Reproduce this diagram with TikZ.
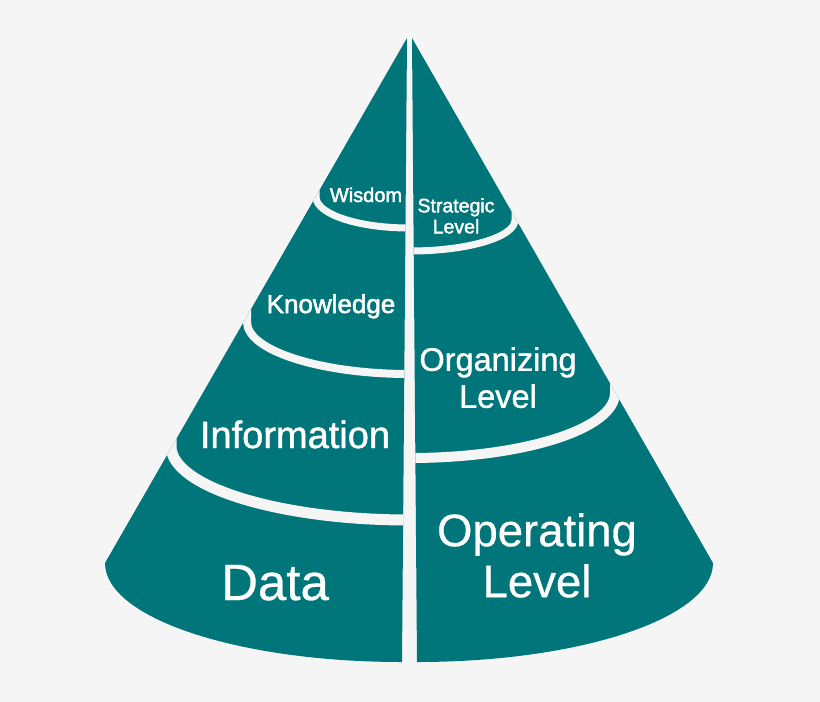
\documentclass[tikz,border=0pt]{standalone}
\usepackage{fontspec}
\setmainfont{Liberation Sans}
\newfontfamily\thicksans[FakeBold=2]{Liberation Sans}
\newfontfamily\midsans[FakeBold=1.2]{Liberation Sans}
\newfontfamily\thinsans[FakeBold=0.6]{Liberation Sans}
\usepackage{xcolor}
\definecolor{coneteal}{HTML}{00757A}
\definecolor{paper}{HTML}{F5F5F5}

\begin{document}
\begin{tikzpicture}[
  x=1pt, y=-1pt,
  cut/.style={draw=paper, line join=round},
  lbl/.style={text=white, inner sep=0pt, align=center}
]
\fill[paper] (0,0) rectangle (820,702);
\useasboundingbox (0,0) rectangle (820,702);

\begin{scope}
  \path[clip] (407,38) -- (105,563) .. controls (105,618) and (238,662) .. (402,662) -- cycle;
  \fill[coneteal] (0,0) rectangle (820,702);
  \draw[cut, line width=7pt] (316,182) -- (316,197) .. controls (316,214) and (358,228) .. (409,228) -- (430,228);
  \draw[cut, line width=8pt] (247,307) -- (247,322) .. controls (247,351) and (322,374) .. (409,374) -- (430,374);
  \draw[cut, line width=11pt] (171,431) -- (171,446) .. controls (171,487) and (280,520) .. (409,520) -- (430,520);
\end{scope}

\begin{scope}
  \path[clip] (412,38) -- (713,563) .. controls (713,618) and (580,662) .. (417,662) -- cycle;
  \fill[coneteal] (0,0) rectangle (820,702);
  \draw[cut, line width=7pt] (515,205) -- (515,220) .. controls (515,237) and (468,251) .. (410,251) -- (390,251);
  \draw[cut, line width=10pt] (615,378) -- (615,393) .. controls (615,429) and (523,458) .. (410,458) -- (390,458);
\end{scope}

\node[lbl, anchor=base, font=\thicksans\fontsize{20}{22}\selectfont] (wisdom) at (366,202) {Wisdom};
\node[lbl, anchor=base, font=\thicksans\fontsize{26}{29}\selectfont] (knowledge) at (331,313) {Knowledge};
\node[lbl, anchor=base, font=\midsans\fontsize{38}{42}\selectfont] (information) at (295,448) {Information};
\node[lbl, anchor=base, font=\thinsans\fontsize{51}{56}\selectfont] (data) at (275,600) {Data};
\node[lbl, anchor=north, font=\thicksans\fontsize{19.5}{21}\selectfont] (strategic) at (456,198) {Strategic\\Level};
\node[lbl, anchor=north, font=\midsans\fontsize{32.5}{37}\selectfont] (organizing) at (498,347) {Organizing\\Level};
\node[lbl, anchor=north, font=\thinsans\fontsize{45.5}{51}\selectfont] (operating) at (537,513) {Operating\\Level};
\end{tikzpicture}
\end{document}
